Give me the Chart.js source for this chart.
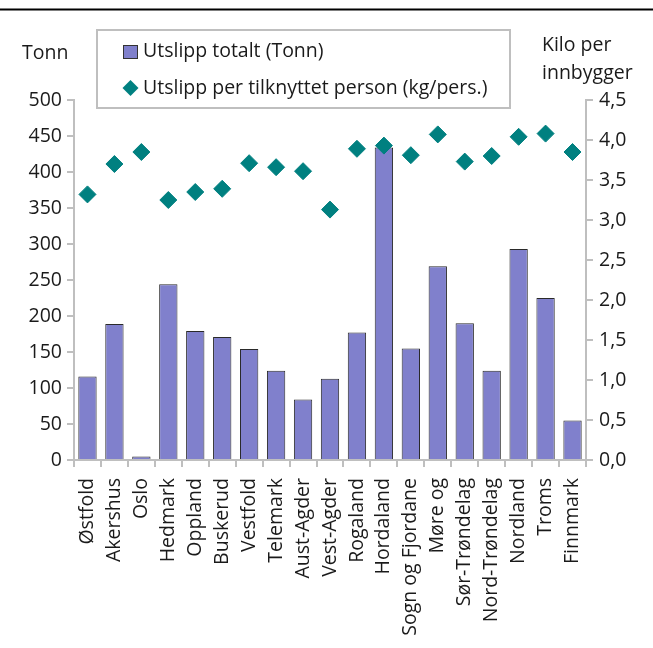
<!DOCTYPE html>
<html>
<head>
<meta charset="utf-8">
<script src="https://cdn.jsdelivr.net/npm/chart.js@4/dist/chart.umd.min.js"></script>
<style>
  html, body { margin: 0; padding: 0; background: #fff; }
  #wrap { width: 653px; height: 648px; }
</style>
</head>
<body>
<div id="wrap"><canvas id="c" width="653" height="648"></canvas></div>
<script>
// Fylker
const categories = ['Østfold', 'Akershus', 'Oslo', 'Hedmark', 'Oppland', 'Buskerud', 'Vestfold',
  'Telemark', 'Aust-Agder', 'Vest-Agder', 'Rogaland', 'Hordaland', 'Sogn og Fjordane', 'Møre og',
  'Sør-Trøndelag', 'Nord-Trøndelag', 'Nordland', 'Troms', 'Finnmark'];

// Utslipp totalt (Tonn)
const utslippTotalt = [116, 189, 5, 244, 179, 171, 154, 124, 84, 113, 177, 434, 155, 269, 190, 124, 293, 225, 55];

// Utslipp per tilknyttet person (kg/pers.)
const utslippPerPerson = [3.32, 3.70, 3.85, 3.25, 3.35, 3.39, 3.71, 3.66, 3.61, 3.13, 3.89, 3.93, 3.81, 4.07, 3.73, 3.80, 4.04, 4.08, 3.85];

const seriesLabels = ['Utslipp totalt (Tonn)', 'Utslipp per tilknyttet person (kg/pers.)'];
const leftTitle = 'Tonn';
const rightTitle = ['Kilo per', 'innbygger'];

const FONT = '"Open Sans", "Noto Sans", sans-serif';
const FS = 19.5;
const AXIS = '#BFBFBF';
const TEXT = '#1a1a1a';

// Overskriftslinje, aksetitler og tegnforklaring
const decorations = {
  id: 'decorations',
  afterDraw(chart) {
    const ctx = chart.ctx;
    ctx.save();
    ctx.strokeStyle = '#000';
    ctx.lineWidth = 2;
    ctx.beginPath();
    ctx.moveTo(0, 9.5);
    ctx.lineTo(653, 9.5);
    ctx.stroke();

    ctx.fillStyle = TEXT;
    ctx.font = FS + 'px ' + FONT;
    ctx.textBaseline = 'middle';
    ctx.textAlign = 'left';
    ctx.fillText(leftTitle, 22, 53);
    ctx.fillText(rightTitle[0], 542, 45);
    ctx.fillText(rightTitle[1], 542, 73);

    // tegnforklaring
    ctx.strokeStyle = AXIS;
    ctx.lineWidth = 2;
    ctx.strokeRect(97, 30, 413, 78);

    const bars = chart.data.datasets.find(d => d.type === 'bar');
    const dots = chart.data.datasets.find(d => d.type === 'scatter');
    // stolpe-markør
    ctx.fillStyle = bars.backgroundColor;
    ctx.fillRect(123, 45, 15, 14);
    ctx.strokeStyle = '#333';
    ctx.lineWidth = 1;
    ctx.strokeRect(123.5, 45.5, 14, 13);
    // ruter-markør
    ctx.fillStyle = dots.backgroundColor;
    ctx.beginPath();
    ctx.moveTo(130.5, 80);
    ctx.lineTo(138.5, 88);
    ctx.lineTo(130.5, 96);
    ctx.lineTo(122.5, 88);
    ctx.closePath();
    ctx.fill();

    ctx.fillStyle = TEXT;
    ctx.font = FS + 'px ' + FONT;
    ctx.fillText(bars.label, 143, 51);
    ctx.fillText(dots.label, 143, 88);
    ctx.restore();
  }
};

const fmtComma = v => v.toFixed(1).replace('.', ',');

new Chart(document.getElementById('c'), {
  data: {
    labels: categories,
    datasets: [
      {
        type: 'scatter',
        label: seriesLabels[1],
        data: utslippPerPerson,
        yAxisID: 'y2',
        backgroundColor: '#008080',
        borderColor: '#008080',
        pointStyle: 'rectRot',
        pointRadius: 8.5,
        pointHoverRadius: 8.5,
        showLine: false,
        order: 0
      },
      {
        type: 'bar',
        label: seriesLabels[0],
        data: utslippTotalt,
        yAxisID: 'y',
        backgroundColor: '#8080CC',
        borderColor: '#2a2a2a',
        borderWidth: 1,
        categoryPercentage: 1,
        barPercentage: 0.68,
        order: 1
      }
    ]
  },
  plugins: [decorations],
  options: {
    responsive: false,
    animation: false,
    devicePixelRatio: 1,
    layout: { padding: { top: 100, left: 0, right: 0, bottom: 0 } },
    plugins: { legend: { display: false }, tooltip: { enabled: false } },
    scales: {
      x: {
        type: 'category',
        offset: true,
        grid: { offset: true, drawOnChartArea: false, drawTicks: true, tickLength: 7, color: AXIS, lineWidth: 2 },
        border: { color: AXIS, width: 2 },
        ticks: {
          color: TEXT, font: { family: FONT, size: FS },
          minRotation: 90, maxRotation: 90, autoSkip: false, padding: 11
        },
        afterFit(s) { s.height = 188; }
      },
      y: {
        position: 'left',
        min: 0, max: 500,
        grid: { drawOnChartArea: false, drawTicks: true, tickLength: 7, color: AXIS, lineWidth: 2 },
        border: { color: AXIS, width: 2 },
        ticks: { stepSize: 50, color: TEXT, font: { family: FONT, size: FS }, padding: 5 },
        afterFit(s) { s.width = 74; }
      },
      y2: {
        position: 'right',
        min: 0, max: 4.5,
        grid: { drawOnChartArea: false, drawTicks: true, tickLength: 7, color: AXIS, lineWidth: 2 },
        border: { color: AXIS, width: 2 },
        ticks: { stepSize: 0.5, color: TEXT, font: { family: FONT, size: FS }, padding: 6, callback: v => fmtComma(v) },
        afterFit(s) { s.width = 67; }
      }
    }
  }
});
</script>
</body>
</html>
